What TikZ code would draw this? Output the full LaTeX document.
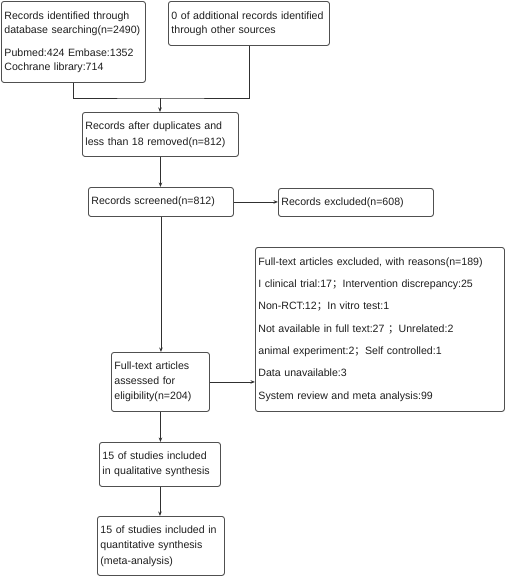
\documentclass[tikz,border=0pt]{standalone}
\usepackage{fontspec}
\setmainfont{Liberation Sans}
\newfontfamily\cjkfont{Noto Sans CJK SC}
\usetikzlibrary{arrows.meta}
\newcommand{\zsemi}{{\cjkfont ；}}
\definecolor{boxgray}{HTML}{505050}
\definecolor{linegray}{HTML}{303030}
\definecolor{textgray}{HTML}{1E1E1E}
\begin{document}
\begin{tikzpicture}[x=1pt,y=1pt,
  box/.style={draw=boxgray, line width=0.9pt, rounded corners=2.5pt,
    anchor=north west, align=left, inner xsep=3pt, inner ysep=0pt,
    text=textgray, font=\fontsize{10.6}{15.5}\selectfont},
  ln/.style={draw=linegray, line width=0.8pt},
  arr/.style={ln, -{Stealth[length=4.5pt,width=3.5pt]}}]
\useasboundingbox (0,0) rectangle (505,-576);

\node[box, text width=138, minimum height=81,
  font=\fontsize{10.6}{14}\selectfont] (A) at (1,-1)
  {Records identified through\\database searching(n=2490)\\[9pt]Pubmed:424 Embase:1352\\Cochrane library:714};
\node[box, text width=155, minimum height=44,
  font=\fontsize{10.6}{14}\selectfont] (B) at (168,-1)
  {0 of additional records identified\\through other sources};
\node[box, text width=150, minimum height=44,
  font=\fontsize{10.6}{16}\selectfont] (C) at (82,-112)
  {Records after duplicates and\\less than 18 removed(n=812)};
\node[box, text width=139, minimum height=29] (D) at (88,-187)
  {Records screened(n=812)};
\node[box, text width=149, minimum height=28] (E) at (278,-188)
  {Records excluded(n=608)};
\node[box, text width=92, minimum height=59,
  font=\fontsize{10.6}{15}\selectfont] (F) at (111,-352)
  {Full-text articles\\assessed for\\eligibility(n=204)};
\node[box, text width=243, minimum height=164,
  font=\fontsize{10.6}{22.3}\selectfont] (G) at (255,-247)
  {Full-text articles excluded, with reasons(n=189)\\
   I clinical trial:17\zsemi Intervention discrepancy:25\\
   Non-RCT:12\zsemi In vitro test:1\\
   Not available in full text:27 \zsemi Unrelated:2\\
   animal experiment:2\zsemi Self controlled:1\\
   Data unavailable:3\\
   System review and meta analysis:99};
\node[box, text width=115, minimum height=44,
  font=\fontsize{10.6}{15}\selectfont] (H) at (99,-442)
  {15 of studies included\\in qualitative synthesis};
\node[box, text width=121, minimum height=59,
  font=\fontsize{10.6}{15.5}\selectfont] (I) at (97,-516)
  {15 of studies included in\\quantitative synthesis\\(meta-analysis)};

\coordinate (m) at (160,-98);
\draw[ln] (A.south) |- (m) -| (B.south);
\draw[arr] (m) -- (m |- C.north);
\draw[arr] (C.south) -- (C.south |- D.north);
\draw[arr] (D.east) -- (D.east -| E.west);
\draw[arr] (D.south) -- (D.south |- F.north);
\draw[arr] (F.east) -- (F.east -| G.west);
\draw[arr] (F.south) -- (F.south |- H.north);
\draw[arr] (H.south) -- (H.south |- I.north);
\end{tikzpicture}
\end{document}
